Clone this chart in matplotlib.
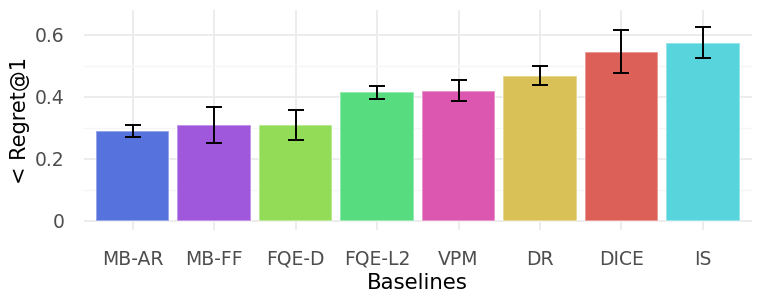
import matplotlib
matplotlib.use('Agg')
import matplotlib.pyplot as plt
import numpy as np

baselines = ['MB-AR', 'MB-FF', 'FQE-D', 'FQE-L2', 'VPM', 'DR', 'DICE', 'IS']
regret = [0.289, 0.308, 0.308, 0.414, 0.420, 0.468, 0.546, 0.574]
err_lo = [0.272, 0.250, 0.261, 0.394, 0.385, 0.439, 0.476, 0.524]
err_hi = [0.308, 0.367, 0.357, 0.435, 0.455, 0.499, 0.616, 0.625]
colors = ['#5672dc', '#9f58dc', '#92dc58', '#58dc80',
          '#dc58b0', '#d9c158', '#dc5f58', '#58d4dc']

fig = plt.figure(figsize=(7.61, 3.04), dpi=100)
ax = fig.add_axes([0.110, 0.243, 0.878, 0.724])

x = np.arange(len(baselines))
vals = np.array(regret)
yerr = np.array([vals - np.array(err_lo), np.array(err_hi) - vals])

ax.bar(x, vals, width=0.9, color=colors, edgecolor=(1, 1, 1, 0.45),
       linewidth=1.2, zorder=2)
ax.errorbar(x, vals, yerr=yerr, fmt='none', ecolor='black', elinewidth=1.4,
            capsize=6, capthick=1.4, zorder=3)

ax.set_xlim(-0.6, len(baselines) - 0.4)
ax.set_ylim(-0.03, 0.68)
ax.set_yticks([0, 0.2, 0.4, 0.6])
ax.set_yticklabels(['0', '0.2', '0.4', '0.6'])
ax.set_yticks([0.1, 0.3, 0.5], minor=True)
ax.set_xticks(x)
ax.set_xticklabels(baselines)

ax.grid(True, which='major', color='#ebebeb', linewidth=1.3, zorder=0)
ax.grid(True, which='minor', axis='y', color='#f5f5f5', linewidth=1.0, zorder=0)
ax.set_axisbelow(True)
for s in ax.spines.values():
    s.set_visible(False)
ax.tick_params(axis='both', which='both', length=0, labelsize=13.5,
               labelcolor='#4d4d4d')
ax.tick_params(axis='x', pad=14)
ax.tick_params(axis='y', pad=14)

ax.set_xlabel('Baselines', fontsize=15.3, labelpad=3)
ax.set_ylabel('< Regret@1', fontsize=15, labelpad=3)

fig.savefig('out.png', dpi=100, facecolor='white')
